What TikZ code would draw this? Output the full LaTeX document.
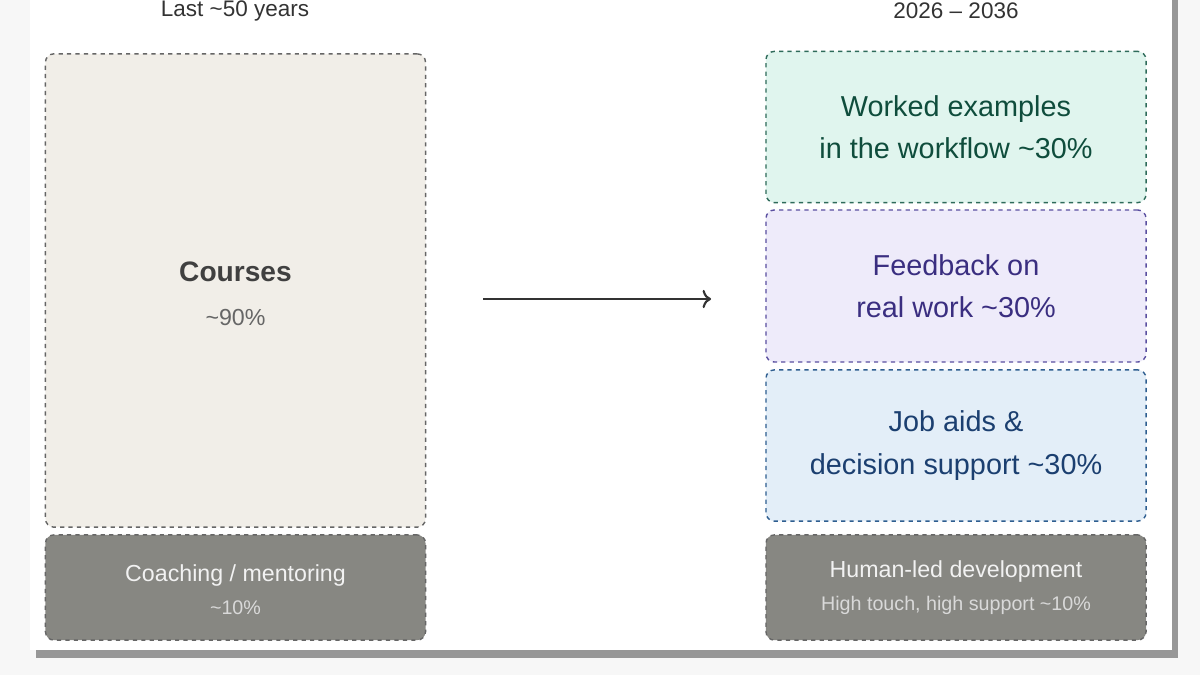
\documentclass[tikz,border=0pt]{standalone}
\usepackage{fontspec}
\setmainfont{Liberation Sans}
\usetikzlibrary{shadows,positioning,arrows.meta}
\definecolor{paper}{HTML}{F1EEE8}
\definecolor{stone}{HTML}{878782}
\definecolor{greenfill}{HTML}{E0F5EE}
\definecolor{greenline}{HTML}{2E6B5A}
\definecolor{greentext}{HTML}{0F4D3C}
\definecolor{violetfill}{HTML}{EEEBFA}
\definecolor{violetline}{HTML}{5A4FA0}
\definecolor{violettext}{HTML}{3A2E80}
\definecolor{bluefill}{HTML}{E3EEF8}
\definecolor{blueline}{HTML}{2E5E90}
\definecolor{bluetext}{HTML}{1B3F70}
\tikzset{
  block/.style={draw, dashed, line width=1pt, rounded corners=6pt, minimum width=9.5cm, align=center, inner sep=0pt},
  share/.style={font=\fontsize{20.5}{30}\selectfont},
}
\begin{document}
\begin{tikzpicture}[x=0.025cm, y=-0.025cm]
\useasboundingbox (0,0) rectangle (1200,675);
\fill[white!97!black] (0,0) rectangle (1200,675);
\fill[white, drop shadow={shadow xshift=4pt, shadow yshift=-6pt, opacity=0.8}] (30,-20) rectangle (1172,650);
% titles
\node[text=black!80, font=\fontsize{16}{18}\selectfont] (past) at (235,11) {Last \textasciitilde50 years};
\node[text=black!80, font=\fontsize{16}{18}\selectfont] (future) at (956,11) {2026 – 2036};
% left column
\node[block, fill=paper, draw=black!60, minimum height=11.83cm] (courses) at (235.5,290.5) {};
\node[text=black!75, font=\bfseries\fontsize{20}{22}\selectfont] (coursesname) at (235.5,272) {Courses};
\node[text=black!60, font=\fontsize{16.5}{18}\selectfont] (coursesshare) at (235.5,318) {\textasciitilde90\%};
\node[block, fill=stone, draw=black!60, minimum height=2.63cm] (coaching) at (235.5,587.5) {};
\node[text=white!95!black, font=\fontsize{16.5}{18}\selectfont] (coachingname) at (235.5,575) {Coaching / mentoring};
\node[text=black!15, font=\fontsize{14}{16}\selectfont] (coachingshare) at (235.5,608) {\textasciitilde10\%};
% right column
\node[block, share, fill=greenfill, draw=greenline, text=greentext, minimum height=3.78cm] (worked) at (956,127) {Worked examples\\in the workflow \textasciitilde30\%};
\node[block, share, fill=violetfill, draw=violetline, text=violettext, minimum height=3.8cm] (feedback) at (956,286) {Feedback on\\real work \textasciitilde30\%};
\node[block, share, fill=bluefill, draw=blueline, text=bluetext, minimum height=3.78cm] (jobaids) at (956,445.5) {Job aids \&\\decision support \textasciitilde30\%};
\node[block, fill=stone, draw=black!60, minimum height=2.63cm] (human) at (956,587.5) {};
\node[text=white!95!black, font=\fontsize{16.5}{18}\selectfont] (humanname) at (956,571) {Human-led development};
\node[text=black!15, font=\fontsize{14}{16}\selectfont] (humanshare) at (956,605) {High touch, high support \textasciitilde10\%};
% shift
\coordinate (from) at (483,299);
\coordinate (to) at (711,299);
\draw[line width=1.5pt, black!80, -{To[length=6pt,width=13pt]}] (from) -- (to);
\end{tikzpicture}
\end{document}
